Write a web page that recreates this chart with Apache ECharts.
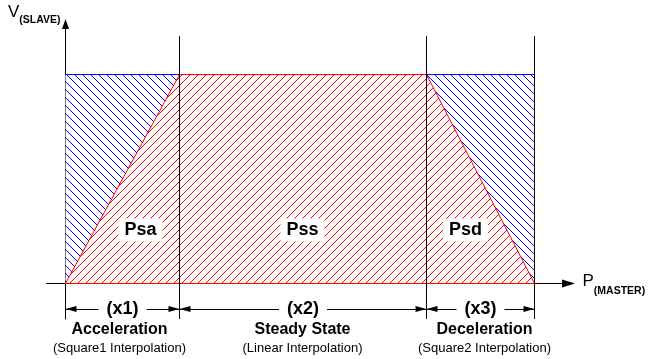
<!DOCTYPE html>
<html><head><meta charset="utf-8">
<script src="https://cdn.jsdelivr.net/npm/echarts@6/dist/echarts.min.js"></script>
<style>html,body{margin:0;padding:0;background:#fff}#c{width:650px;height:359px}</style>
</head><body><div id="c"></div>
<script>
// ---- data (master position units, slave velocity %) ----
var phaseNames = ['Acceleration', 'Steady State', 'Deceleration'];
var phaseSubs = ['(Square1 Interpolation)', '(Linear Interpolation)', '(Square2 Interpolation)'];
var phaseDims = ['(x1)', '(x2)', '(x3)'];
var areaNames = ['Psa', 'Pss', 'Psd'];
var boundaries = [0, 114, 361, 469];      // P(MASTER) at phase boundaries
var vMax = 100;                            // V(SLAVE) steady velocity
var profileV = [0, 100, 100, 0];           // velocity at boundaries
var areaLabelX = [75, 237, 400];
var areaLabelY = 25.6;
var phaseLabelX = [54, 237, 419];
var phaseLabelY = -26.6;
var dimY = -12.2;
var guideTop = 118.5;
var guideBottom = -17;

var FONT = '"Liberation Sans", Arial, sans-serif';

function hatch(color, dir) {
  var c = document.createElement('canvas');
  c.width = 8; c.height = 8;
  var g = c.getContext('2d');
  g.fillStyle = '#ffffff'; g.fillRect(0, 0, 8, 8);
  g.fillStyle = color;
  for (var i = 0; i < 8; i++) {
    g.fillRect(i, dir > 0 ? (8 - i) % 8 : i, 1, 1);
  }
  return { image: c, repeat: 'repeat' };
}

var profile = boundaries.map(function (b, i) { return [b, profileV[i]]; });
var envelope = [[boundaries[0], vMax], [boundaries[3], vMax]];
var baseLine = [[boundaries[0], 0], [boundaries[3], 0]];
var guides = boundaries.slice(1).map(function (b) {
  return [{ coord: [b, guideBottom] }, { coord: [b, guideTop] }];
});
var dims = phaseDims.map(function (n, i) {
  return [{ coord: [boundaries[i], dimY], name: n }, { coord: [boundaries[i + 1], dimY] }];
});
var areaLabelData = areaNames.map(function (n, i) { return [areaLabelX[i], areaLabelY, i]; });
var phaseLabelData = phaseNames.map(function (n, i) { return [phaseLabelX[i], phaseLabelY, i]; });

var chart = echarts.init(document.getElementById('c'), null, { renderer: 'canvas' });
chart.setOption({
  animation: false,
  backgroundColor: '#fff',
  grid: { left: 46.5, top: 24, right: 81.5, bottom: 40 },
  xAxis: {
    type: 'value', min: -19, max: 503,
    splitLine: { show: false }, axisTick: { show: false }, axisLabel: { show: false },
    axisLine: { lineStyle: { color: '#000', width: 1 }, symbol: ['none', 'triangle'], symbolSize: [8, 13] },
    name: '{p|P}{s|(MASTER)}', nameLocation: 'end', nameGap: 14,
    nameTextStyle: {
      align: 'left', verticalAlign: 'middle', padding: [3, 0, 0, 0],
      rich: {
        p: { fontFamily: FONT, fontSize: 17, color: '#000', lineHeight: 24, verticalAlign: 'top' },
        s: { fontFamily: FONT, fontSize: 10.5, fontWeight: 'bold', color: '#000', lineHeight: 12, verticalAlign: 'bottom' }
      }
    }
  },
  yAxis: {
    type: 'value', min: guideBottom, max: 124.2,
    splitLine: { show: false }, axisTick: { show: false }, axisLabel: { show: false },
    axisLine: { lineStyle: { color: '#000', width: 1 }, symbol: ['none', 'triangle'], symbolSize: [7, 10] },
    name: '{p|V}{s|(SLAVE)}', nameLocation: 'end', nameGap: 20,
    nameTextStyle: {
      align: 'right', verticalAlign: 'top', padding: [0, 5, 0, 0],
      rich: {
        p: { fontFamily: FONT, fontSize: 17, color: '#000', lineHeight: 22, verticalAlign: 'top' },
        s: { fontFamily: FONT, fontSize: 10.5, fontWeight: 'bold', color: '#000', lineHeight: 12, verticalAlign: 'bottom' }
      }
    }
  },
  series: [
    {
      type: 'line', data: envelope, showSymbol: false, symbol: 'none', z: 2,
      lineStyle: { color: '#0000ff', width: 1 },
      areaStyle: { color: hatch('#0000ff', -1), opacity: 1 }
    },
    {
      type: 'line', data: profile, showSymbol: false, symbol: 'none', z: 3,
      lineStyle: { color: '#ff0000', width: 1 },
      areaStyle: { color: hatch('#ff0000', 1), opacity: 1 }
    },
    {
      type: 'line', data: baseLine, showSymbol: false, symbol: 'none', z: 4,
      lineStyle: { color: '#ff0000', width: 1 },
      markLine: {
        silent: true, symbol: ['none', 'none'],
        lineStyle: { color: '#000', width: 1, type: 'solid' },
        label: { show: false },
        data: guides
      }
    },
    {
      type: 'line', data: [], showSymbol: false, z: 5,
      markLine: {
        silent: true, symbol: ['triangle', 'triangle'], symbolSize: [6, 11],
        symbolOffset: [[0, 5.5], [0, 5.5]],
        lineStyle: { color: '#000', width: 1, type: 'solid' },
        label: {
          show: true, position: 'middle', distance: 0, verticalAlign: 'middle',
          formatter: function (p) { return p.name; },
          fontFamily: FONT, fontSize: 18, fontWeight: 'bold', color: '#000',
          backgroundColor: '#fff', padding: [1, 8]
        },
        data: dims
      }
    },
    {
      type: 'custom', z: 10, silent: true, data: areaLabelData,
      renderItem: function (params, api) {
        var pt = api.coord([api.value(0), api.value(1)]);
        return {
          type: 'text', x: pt[0], y: pt[1],
          style: {
            text: areaNames[api.value(2)], fill: '#000',
            font: 'bold 18px ' + FONT, align: 'center', verticalAlign: 'middle',
            backgroundColor: '#fff', padding: [3, 6, 2, 6]
          }
        };
      }
    },
    {
      type: 'custom', z: 10, silent: true, data: phaseLabelData,
      renderItem: function (params, api) {
        var pt = api.coord([api.value(0), api.value(1)]);
        var i = api.value(2);
        return {
          type: 'text', x: pt[0], y: pt[1],
          style: {
            text: '{a|' + phaseNames[i] + '}\n{b|' + phaseSubs[i] + '}',
            align: 'center', verticalAlign: 'middle',
            rich: {
              a: { fontFamily: FONT, fontSize: 16, fontWeight: 'bold', fill: '#000', lineHeight: 18, align: 'center' },
              b: { fontFamily: FONT, fontSize: 13, fill: '#000', lineHeight: 18, align: 'center' }
            }
          }
        };
      }
    }
  ]
});
</script>
</body></html>
